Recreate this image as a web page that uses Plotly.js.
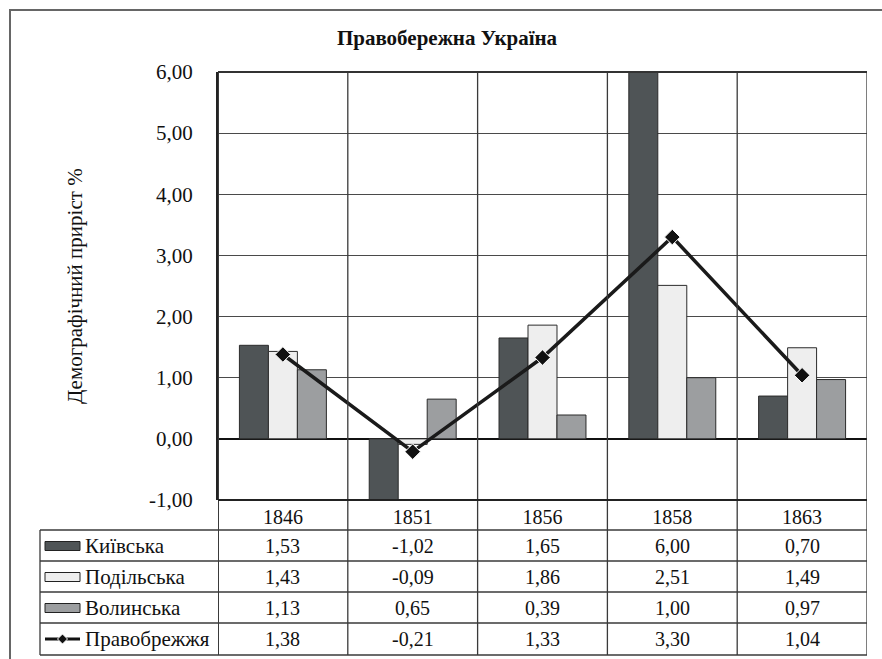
<!DOCTYPE html>
<html><head><meta charset="utf-8">
<script src="https://cdn.plot.ly/plotly-3.0.1.min.js"></script>
<style>body{margin:0;padding:0;background:#fff}#chart{width:882px;height:659px}</style>
</head><body><div id="chart"></div>
<script>
const years = ['1846','1851','1856','1858','1863'];
const kyiv = [1.53,-1.02,1.65,6.00,0.70];
const podil = [1.43,-0.09,1.86,2.51,1.49];
const volyn = [1.13,0.65,0.39,1.00,0.97];
const pravo = [1.38,-0.21,1.33,3.30,1.04];
const seriesNames = ['Київська','Подільська','Волинська','Правобрежжя'];
const yTickVals = [-1,0,1,2,3,4,5,6];
const yTickLabels = ['-1,00','0,00','1,00','2,00','3,00','4,00','5,00','6,00'];
const seriesColors = ['#4f5456','#eeeeee','#9c9ea0','#1a1a1a'];
const titleText = 'Правобережна Україна';
const yTitle = 'Демографічний приріст %';

const W = 882, H = 659, L = 218, R = 867, T = 72, B = 500;
const px = p => (p - L) / (R - L);
const py = p => (B - p) / (B - T);
const FONT = '"Liberation Serif", "Times New Roman", serif';
const fmt = v => v.toFixed(2).replace('.', ',');
const idx = years.map((_, i) => i);

const traces = [];
[kyiv, podil, volyn].forEach((vals, i) => {
  traces.push({type:'bar', x: idx, y: vals, name: seriesNames[i],
    marker:{color: seriesColors[i], line:{color:'#2b2b2b', width:1}},
    showlegend:false, hoverinfo:'skip'});
});
traces.push({type:'scatter', mode:'lines+markers', x: idx, y: pravo, name: seriesNames[3],
  line:{color: seriesColors[3], width:3.5},
  marker:{symbol:'diamond', size:12, color:'#111', line:{color:'#fff', width:1}},
  showlegend:false, cliponaxis:false});

const shapes = [];
const annotations = [];
shapes.push({type:'rect', xref:'paper', yref:'paper', x0:px(10), x1:px(900), y0:py(10), y1:py(680),
  line:{color:'#666', width:2}, fillcolor:'rgba(0,0,0,0)', layer:'below'});
for (let i = 0; i <= years.length; i++) {
  shapes.push({type:'line', xref:'x', yref:'paper', x0:i-0.5, x1:i-0.5, y0:py(T), y1:py(655),
    line:{color:'#3a3a3a', width: (i===0 ? 2 : 1.3)}});
}
shapes.push({type:'line', xref:'paper', yref:'paper', x0:0, x1:1, y0:1, y1:1, line:{color:'#333', width:2}});
const rowLines = [530, 561, 592, 623, 655];
rowLines.forEach(yv => {
  shapes.push({type:'line', xref:'paper', yref:'paper', x0:px(40), x1:1, y0:py(yv), y1:py(yv),
    line:{color:'#3a3a3a', width:1.3}});
});
shapes.push({type:'line', xref:'paper', yref:'paper', x0:0, x1:1, y0:0, y1:0, line:{color:'#222', width:2}});
shapes.push({type:'line', xref:'paper', yref:'paper', x0:px(40), x1:px(40), y0:py(530), y1:py(655),
  line:{color:'#3a3a3a', width:1.3}});

const rowCenters = [546, 577, 608, 639];
const allSeries = [kyiv, podil, volyn, pravo];
allSeries.forEach((vals, r) => {
  if (r < 3) {
    shapes.push({type:'rect', xref:'paper', yref:'paper', x0:px(45), x1:px(80),
      y0:py(rowCenters[r]-4.5), y1:py(rowCenters[r]+4.5),
      fillcolor: seriesColors[r], line:{color:'#222', width:1}});
  } else {
    shapes.push({type:'line', xref:'paper', yref:'paper', x0:px(45), x1:px(80),
      y0:py(rowCenters[r]), y1:py(rowCenters[r]), line:{color:'#111', width:3}});
    const cx = 62.5, cy = rowCenters[r], d = 5;
    shapes.push({type:'path', xref:'paper', yref:'paper',
      path:`M ${px(cx)} ${py(cy-d)} L ${px(cx+d)} ${py(cy)} L ${px(cx)} ${py(cy+d)} L ${px(cx-d)} ${py(cy)} Z`,
      fillcolor:'#111', line:{color:'#fff', width:1}});
  }
  annotations.push({xref:'paper', yref:'paper', x:px(83), y:py(rowCenters[r]), xanchor:'left', yanchor:'middle',
    text: seriesNames[r], showarrow:false, font:{family:FONT, size:21, color:'#111'}});
  vals.forEach((v, c) => {
    annotations.push({xref:'x', yref:'paper', x: idx[c], y: py(rowCenters[r]), xanchor:'center', yanchor:'middle',
      text: fmt(v), showarrow:false, font:{family:FONT, size:20, color:'#111'}});
  });
});
annotations.push({xref:'paper', yref:'paper', x:px(75), y:py(286), textangle:-90, xanchor:'center', yanchor:'middle',
  text: yTitle, showarrow:false, font:{family:FONT, size:21, color:'#111'}});

const layout = {
  width: W, height: H,
  margin:{l:L, r:W-R, t:T, b:H-B},
  paper_bgcolor:'#fff', plot_bgcolor:'#fff',
  title:{text:'<b>'+titleText+'</b>', xref:'container', yref:'container', x:447/W, xanchor:'center', y:1-38/H, yanchor:'middle',
    font:{family:FONT, size:21, color:'#111'}},
  barmode:'group', bargap:0.33, bargroupgap:0,
  xaxis:{type:'linear', range:[-0.5, years.length-0.5], tickmode:'array', tickvals: idx, ticktext: years,
    showgrid:false, zeroline:false, showline:false,
    ticks:'', ticklabelstandoff:3, tickfont:{family:FONT, size:20, color:'#111'}, fixedrange:true},
  yaxis:{range:[-1,6], tickmode:'array', tickvals: yTickVals, ticktext: yTickLabels,
    showgrid:true, gridcolor:'#4a4a4a', gridwidth:1,
    zeroline:true, zerolinecolor:'#111', zerolinewidth:2, showline:true, linecolor:'#222', linewidth:2,
    ticks:'', ticklabelstandoff:19, tickfont:{family:FONT, size:21, color:'#111'}, fixedrange:true},
  shapes, annotations,
  font:{family:FONT}
};
Plotly.newPlot('chart', traces, layout, {displayModeBar:false, staticPlot:true});
</script></body></html>
